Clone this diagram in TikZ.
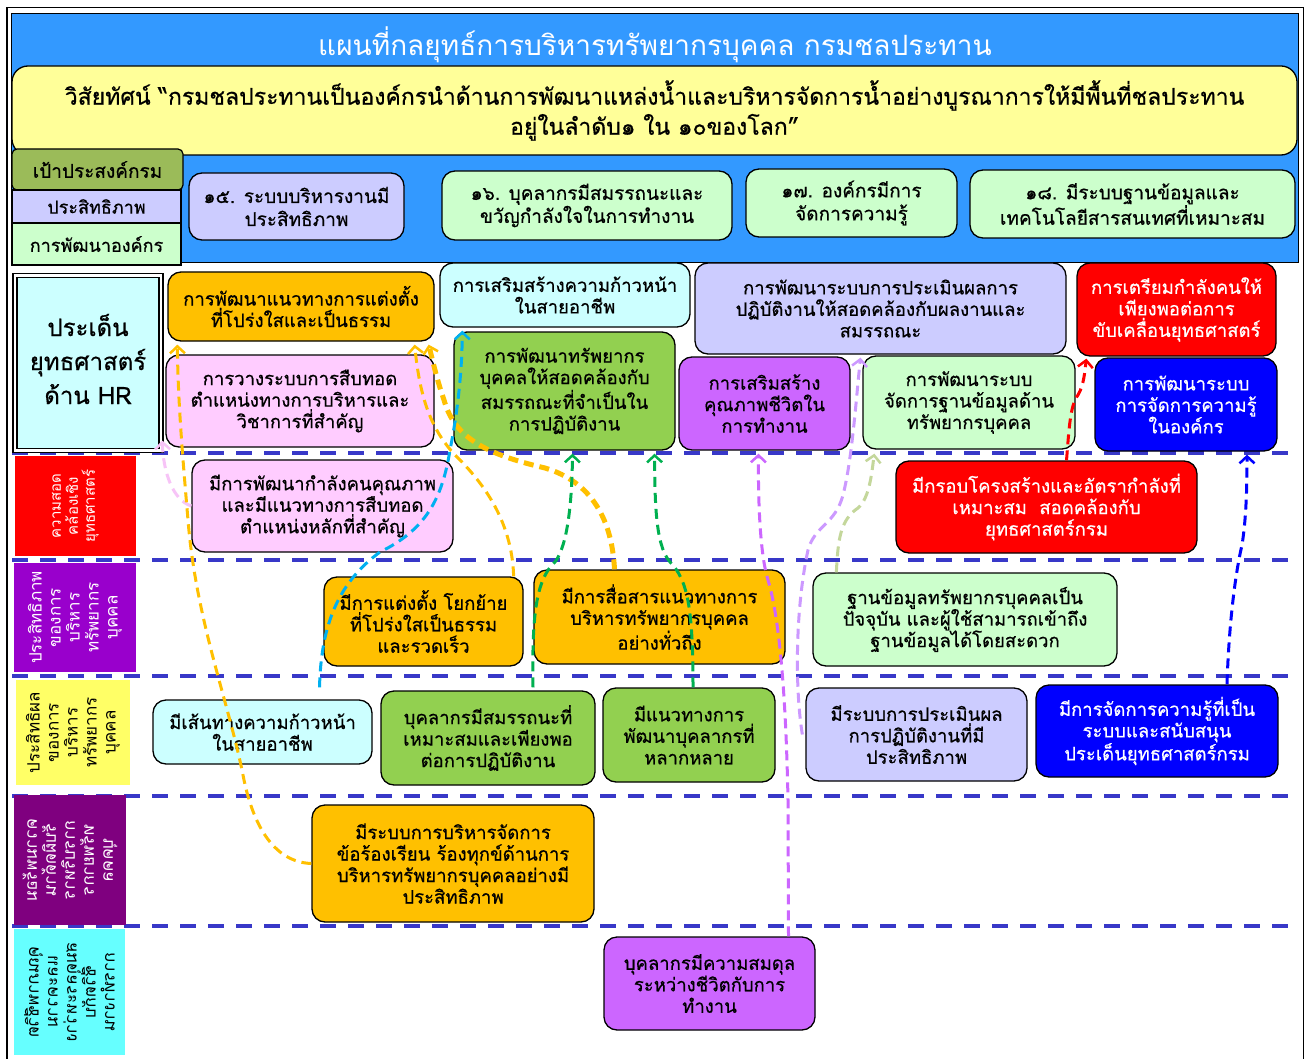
\documentclass[tikz,border=0pt]{standalone}
\usepackage{fontspec}
\setmainfont[Script=Thai]{Loma}
\newfontfamily\thaib[Script=Thai,FakeBold=0.6]{Loma}
\usetikzlibrary{arrows.meta,calc}
\definecolor{hdrblue}{HTML}{3399FF}
\definecolor{visyel}{HTML}{FFFF99}
\definecolor{olive}{HTML}{9BBB59}
\definecolor{lav}{HTML}{CCCCFF}
\definecolor{lgreen}{HTML}{CCFFCC}
\definecolor{orng}{HTML}{FFC000}
\definecolor{pnk}{HTML}{FFCCFF}
\definecolor{lcyan}{HTML}{CCFFFF}
\definecolor{grn}{HTML}{92D050}
\definecolor{purp}{HTML}{CC66FF}
\definecolor{rowline}{HTML}{3838C8}
\definecolor{labpurple}{HTML}{9900CC}
\definecolor{labyellow}{HTML}{FFFF66}
\definecolor{labdark}{HTML}{7F007F}
\definecolor{labcyan}{HTML}{66FFFF}
\definecolor{arrpink}{HTML}{F7C4F7}
\definecolor{arrcyan}{HTML}{00B0F0}
\definecolor{arrgreen}{HTML}{00B050}
\definecolor{arrlav}{HTML}{CC99FF}
\definecolor{arrolive}{HTML}{C4D79B}
\newcommand{\bxfont}{\thaib\fontsize{18.5}{21.5}\selectfont}
\newcommand{\goalfont}{\thaib\fontsize{19}{23}\selectfont}
\newcommand{\labfont}{\fontsize{17}{19}\selectfont}
\newcommand{\labfontsmall}{\fontsize{15}{17}\selectfont}
\tikzset{
  box/.style={draw=black, line width=1.3pt, rounded corners=13pt, align=center, inner sep=0pt, font=\bxfont},
  goalbox/.style={box, font=\goalfont},
  lab/.style={inner sep=0pt, align=center, font=\labfont},
  sep/.style={draw=rowline, line width=4pt, dash pattern=on 16pt off 12pt},
  conn/.style={line width=3pt, dash pattern=on 10pt off 6pt, -{Straight Barb[length=7pt,width=15pt,line width=2.5pt]}},
  thick conn/.style={conn, line width=5pt}
}
\begin{document}
\begin{tikzpicture}[x=1pt,y=-1pt]
\useasboundingbox (0,0) rectangle (1311,1059);
\fill[white] (0,0) rectangle (1311,1059);
% outer frame
\draw[line width=1.6pt] (7,7.5) rectangle (1303.5,1064);
% header
\node[fill=hdrblue, draw=black, line width=1pt, minimum width=1287pt, minimum height=249pt, inner sep=0pt] (hdr) at (654.5,138.5) {};
\node[text=white, font=\fontsize{28}{32}\selectfont, inner sep=0pt] (title) at (655,45) {แผนที่กลยุทธ์การบริหารทรัพยากรบุคคล กรมชลประทาน};
\node[box, fill=visyel, rounded corners=16pt, minimum width=1285pt, minimum height=89pt, font=\thaib\fontsize{23}{30}\selectfont] (vision) at (654.5,110.5)
  {วิสัยทัศน์ “กรมชลประทานเป็นองค์กรนำด้านการพัฒนาแหล่งน้ำและบริหารจัดการน้ำอย่างบูรณาการให้มีพื้นที่ชลประทาน\\อยู่ในลำดับ๑ ใน ๑๐ของโลก”};
% legend
\node[draw=black, line width=1.2pt, fill=olive, rounded corners=5pt, minimum width=171pt, minimum height=41pt, inner sep=0pt, font=\goalfont] (leg0) at (97.5,169.5) {เป้าประสงค์กรม};
\node[draw=black, line width=1.2pt, fill=lav, minimum width=169pt, minimum height=33pt, inner sep=0pt, font=\thaib\fontsize{18}{22}\selectfont] (leg1) at (96.5,206.5) {ประสิทธิภาพ};
\node[draw=black, line width=1.2pt, fill=lgreen, minimum width=169pt, minimum height=42pt, inner sep=0pt, font=\thaib\fontsize{18}{22}\selectfont] (leg2) at (96.5,244) {การพัฒนาองค์กร};
% goals
\node[goalbox, fill=lav, minimum width=215pt, minimum height=67pt] (g15) at (296.5,206.5) {๑๕. ระบบบริหารงานมี\\ประสิทธิภาพ};
\node[goalbox, fill=lgreen, minimum width=290pt, minimum height=69pt] (g16) at (587,205.5) {๑๖. บุคลากรมีสมรรถนะและ\\ขวัญกำลังใจในการทำงาน};
\node[goalbox, fill=lgreen, minimum width=211pt, minimum height=68pt] (g17) at (851.5,203) {๑๗. องค์กรมีการ\\จัดการความรู้};
\node[goalbox, fill=lgreen, minimum width=325pt, minimum height=68pt] (g18) at (1132.5,204) {๑๘. มีระบบฐานข้อมูลและ\\เทคโนโลยีสารสนเทศที่เหมาะสม};
% row separators
\draw[sep] (12,453) -- (1297,453);
\draw[sep] (12,560) -- (1297,560);
\draw[sep] (12,676) -- (1297,676);
\draw[sep] (12,796) -- (1297,796);
\draw[sep] (12,926) -- (1297,926);
% HR box
\node[draw=black, line width=1.3pt, double, double distance=2.5pt, fill=lcyan, minimum width=146pt, minimum height=175pt, inner sep=0pt] (hr) at (88,363) {};
\node[inner sep=0pt, align=center, font=\thaib\fontsize{24}{34}\selectfont] (hrtext) at (88,359) {ประเด็น\\ยุทธศาสตร์\\ด้าน HR};
% row labels
\node[lab, font=\labfontsmall, fill=red, text=white, minimum width=100pt, minimum height=121pt, rotate=90] (lr) at (75.5,506) {ความสอด\\คล้องเชิง\\ยุทธศาสตร์};
\node[lab, fill=labpurple, text=white, minimum width=109pt, minimum height=122pt, rotate=90] (lp) at (75,617.5) {ประสิทธิภาพ\\ของการ\\บริหาร\\ทรัพยากร\\บุคคล};
\node[lab, fill=labyellow, minimum width=105pt, minimum height=114pt, rotate=90] (ly) at (73,732.5) {ประสิทธิผล\\ของการ\\บริหาร\\ทรัพยากร\\บุคคล};
\node[lab, fill=labdark, text=white, minimum width=130pt, minimum height=112pt, cm={0,-1,-1,0,(0,0)}] (ld) at (70,860) {ความพร้อม\\รับผิดด้าน\\การบริหาร\\ทรัพยากร\\บุคคล};
\node[lab, fill=labcyan, minimum width=126pt, minimum height=111pt, cm={0,-1,-1,0,(0,0)}] (lc) at (69.5,992) {คุณภาพชีวิต\\และความ\\สมดุลระหว่าง\\ชีวิตกับ\\การทำงาน};
% strategic issues
\node[box, fill=orng, minimum width=266pt, minimum height=69pt] (a1) at (301,306.5) {การพัฒนาแนวทางการแต่งตั้ง\\ที่โปร่งใสและเป็นธรรม};
\node[box, fill=pnk, minimum width=268pt, minimum height=92pt] (a2) at (300,401) {การวางระบบการสืบทอด\\ตำแหน่งทางการบริหารและ\\วิชาการที่สำคัญ};
\node[box, fill=lcyan, minimum width=250pt, minimum height=64pt] (a3) at (565,295) {การเสริมสร้างความก้าวหน้า\\ในสายอาชีพ};
\node[box, fill=grn, minimum width=221pt, minimum height=118pt] (a4) at (564.5,391) {การพัฒนาทรัพยากร\\บุคคลให้สอดคล้องกับ\\สมรรถณะที่จำเป็นใน\\การปฏิบัติงาน};
\node[box, fill=lav, minimum width=371pt, minimum height=91pt] (a5) at (880.5,308.5) {การพัฒนาระบบการประเมินผลการ\\ปฏิบัติงานให้สอดคล้องกับผลงานและ\\สมรรถณะ};
\node[box, fill=purp, minimum width=171pt, minimum height=93pt] (a6) at (764.5,403.5) {การเสริมสร้าง\\คุณภาพชีวิตใน\\การทำงาน};
\node[box, fill=lgreen, minimum width=212pt, minimum height=93pt] (a7) at (969,402.5) {การพัฒนาระบบ\\จัดการฐานข้อมูลด้าน\\ทรัพยากรบุคคล};
\node[box, fill=red, text=white, minimum width=199pt, minimum height=93pt] (a8) at (1176.5,309.5) {การเตรียมกำลังคนให้\\เพียงพอต่อการ\\ขับเคลื่อนยุทธศาสตร์};
\node[box, fill=blue, text=white, minimum width=182pt, minimum height=93pt] (a9) at (1186,404.5) {การพัฒนาระบบ\\การจัดการความรู้\\ในองค์กร};
% row 1
\node[box, fill=pnk, minimum width=261pt, minimum height=92pt] (b1) at (322.5,506) {มีการพัฒนากำลังคนคุณภาพ\\และมีแนวทางการสืบทอด\\ตำแหน่งหลักที่สำคัญ};
\node[box, fill=red, text=white, minimum width=301pt, minimum height=92pt] (b2) at (1046.5,507) {มีกรอบโครงสร้างและอัตรากำลังที่\\เหมาะสม\ \ สอดคล้องกับ\\ยุทธศาสตร์กรม};
% row 2
\node[box, fill=orng, minimum width=199pt, minimum height=89pt] (c1) at (423.5,621.5) {มีการแต่งตั้ง โยกย้าย\\ที่โปร่งใสเป็นธรรม\\และรวดเร็ว};
\node[box, fill=orng, minimum width=251pt, minimum height=94pt] (c2) at (659.5,617) {มีการสื่อสารแนวทางการ\\บริหารทรัพยากรบุคคล\\อย่างทั่วถึง};
\node[box, fill=lgreen, minimum width=304pt, minimum height=93pt] (c3) at (965,619.5) {ฐานข้อมูลทรัพยากรบุคคลเป็น\\ปัจจุบัน และผู้ใช้สามารถเข้าถึง\\ฐานข้อมูลได้โดยสะดวก};
% row 3
\node[box, fill=lcyan, minimum width=219pt, minimum height=64pt] (d1) at (262.5,732) {มีเส้นทางความก้าวหน้า\\ในสายอาชีพ};
\node[box, fill=grn, minimum width=214pt, minimum height=94pt] (d2) at (488,738) {บุคลากรมีสมรรถนะที่\\เหมาะสมและเพียงพอ\\ต่อการปฏิบัติงาน};
\node[box, fill=grn, minimum width=172pt, minimum height=94pt] (d3) at (689,735) {มีแนวทางการ\\พัฒนาบุคลากรที่\\หลากหลาย};
\node[box, fill=lav, minimum width=221pt, minimum height=93pt] (d4) at (916.5,734.5) {มีระบบการประเมินผล\\การปฏิบัติงานที่มี\\ประสิทธิภาพ};
\node[box, fill=blue, text=white, minimum width=242pt, minimum height=92pt] (d5) at (1157,731) {มีการจัดการความรู้ที่เป็น\\ระบบและสนับสนุน\\ประเด็นยุทธศาสตร์กรม};
% row 4
\node[box, fill=orng, minimum width=282pt, minimum height=117pt] (e1) at (453,863.5) {มีระบบการบริหารจัดการ\\ข้อร้องเรียน ร้องทุกข์ด้านการ\\บริหารทรัพยากรบุคคลอย่างมี\\ประสิทธิภาพ};
% row 5
\node[box, fill=purp, minimum width=211pt, minimum height=93pt] (f1) at (709.5,983.5) {บุคลากรมีความสมดุล\\ระหว่างชีวิตกับการ\\ทำงาน};
% connectors
\draw[conn, arrpink] (b1.west) .. controls (172,500) and (163,470) .. ([xshift=-3pt,yshift=7pt]a2.south west);
\draw[conn, orng] (e1.west) .. controls (272,862) and (252,822) .. (243,775) .. controls (228,700) and (196,620) .. (188,520) .. controls (182,450) and (178,400) .. ([xshift=10pt,yshift=-3pt]a1.south west);
\draw[conn, orng] ([xshift=-10pt]c1.north east) .. controls (512,520) and (482,482) .. (458,458) .. controls (432,432) and (420,400) .. ([xshift=-20pt,yshift=-3pt]a1.south east);
\draw[thick conn, orng] ([xshift=-45pt]c2.north) .. controls (612,520) and (592,482) .. (545,468) .. controls (490,455) and (455,440) .. (444,400) .. controls (437,380) and (433,362) .. ([xshift=-6pt,yshift=-3pt]a1.south east);
\draw[conn, arrcyan] ([xshift=57pt,yshift=12pt]d1.north) .. controls (321,630) and (335,585) .. (380,552) .. controls (425,530) and (442,500) .. (450,450) .. controls (458,410) and (462,370) .. ([xshift=23pt,yshift=-3pt]a3.south west);
\draw[conn, arrgreen] ([xshift=45pt,yshift=3pt]d2.north) .. controls (532,620) and (535,580) .. (555,562) .. controls (568,545) and (572,500) .. ([xshift=8pt,yshift=-3pt]a4.south);
\draw[conn, arrgreen] ([xshift=4pt]d3.north) .. controls (693,610) and (688,580) .. (670,562) .. controls (655,545) and (655,500) .. ([xshift=90pt,yshift=-3pt]a4.south);
\draw[conn, purp] ([xshift=79pt]f1.north) -- (788,800) .. controls (786,700) and (780,620) .. (768,580) .. controls (760,555) and (758,500) .. ([xshift=-6pt,yshift=-3pt]a6.south);
\draw[conn, arrlav] ([xshift=-3pt]d4.west) .. controls (795,690) and (795,610) .. (808,550) .. controls (815,525) and (835,525) .. (843,495) .. controls (852,460) and (856,400) .. ([xshift=-20pt,yshift=-3pt]a5.south);
\draw[conn, arrolive] ([xshift=24pt]c3.north west) .. controls (838,540) and (840,520) .. (858,508) .. controls (870,498) and (872,470) .. ([xshift=12pt,yshift=-4pt]a7.south west);
\draw[conn, red] ([xshift=20pt]b2.north) .. controls (1069,430) and (1070,405) .. (1078,395) .. controls (1084,385) and (1085,370) .. ([xshift=10pt,yshift=-2pt]a8.south west);
\draw[conn, blue] ([xshift=70pt]d5.north) .. controls (1229,620) and (1236,570) .. (1242,545) .. controls (1246,520) and (1247,490) .. ([xshift=61pt,yshift=-3pt]a9.south);
\end{tikzpicture}
\end{document}
